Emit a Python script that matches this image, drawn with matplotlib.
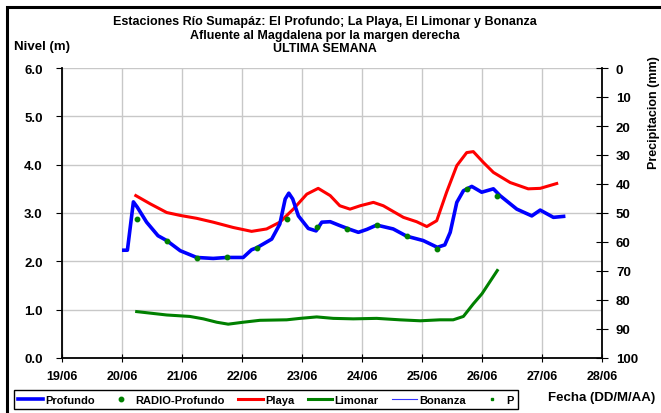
import matplotlib
matplotlib.use("Agg")
import matplotlib.pyplot as plt
from matplotlib.lines import Line2D
from matplotlib.patches import Rectangle

plt.rcParams["font.family"] = ["Liberation Sans", "DejaVu Sans"]
plt.rcParams["font.weight"] = "bold"

# dias de junio (fraccion de dia) y niveles (m)
profundo_t = [20.03, 20.09, 20.19, 20.255, 20.41, 20.6, 20.745, 20.97, 21.245, 21.52,
              21.745, 22.02, 22.16, 22.245, 22.495, 22.63, 22.72, 22.78, 22.845, 22.94,
              23.105, 23.235, 23.33, 23.47, 23.63, 23.8, 23.94, 24.08, 24.245, 24.52,
              24.745, 25.02, 25.255, 25.38, 25.47, 25.58, 25.69, 25.83, 25.995, 26.19,
              26.3, 26.58, 26.83, 26.97, 27.19, 27.36]
profundo_v = [2.23, 2.23, 3.23, 3.12, 2.81, 2.53, 2.43, 2.22, 2.08, 2.06,
              2.08, 2.08, 2.24, 2.28, 2.46, 2.77, 3.29, 3.41, 3.29, 2.94,
              2.68, 2.63, 2.81, 2.82, 2.74, 2.66, 2.60, 2.66, 2.75, 2.67,
              2.52, 2.43, 2.29, 2.34, 2.60, 3.22, 3.46, 3.55, 3.43, 3.50,
              3.36, 3.08, 2.94, 3.06, 2.91, 2.93]

radio_t = [20.25, 20.75, 21.25, 21.75, 22.25, 22.75, 23.25, 23.75, 24.25, 24.75,
           25.25, 25.75, 26.25]
radio_v = [2.88, 2.43, 2.06, 2.08, 2.28, 2.87, 2.71, 2.66, 2.75, 2.52,
           2.25, 3.50, 3.36]

playa_t = [20.23, 20.47, 20.745, 20.97, 21.245, 21.52, 21.855, 22.16, 22.41, 22.63,
           22.855, 23.08, 23.27, 23.47, 23.63, 23.8, 23.97, 24.19, 24.355, 24.69,
           24.91, 25.08, 25.245, 25.41, 25.58, 25.745, 25.855, 26.02, 26.19, 26.47,
           26.77, 26.97, 27.245]
playa_v = [3.36, 3.19, 3.01, 2.95, 2.89, 2.81, 2.70, 2.62, 2.67, 2.81,
           3.08, 3.39, 3.51, 3.36, 3.15, 3.08, 3.15, 3.22, 3.15, 2.91,
           2.82, 2.72, 2.84, 3.43, 3.98, 4.25, 4.27, 4.05, 3.84, 3.63,
           3.50, 3.51, 3.61]

limonar_t = [20.245, 20.745, 21.13, 21.355, 21.58, 21.77, 22.02, 22.3, 22.745, 22.97,
             23.245, 23.52, 23.855, 24.245, 24.63, 24.97, 25.3, 25.52, 25.69, 25.855,
             26.0, 26.255]
limonar_v = [0.96, 0.89, 0.86, 0.81, 0.74, 0.70, 0.74, 0.78, 0.79, 0.82,
             0.85, 0.82, 0.81, 0.82, 0.79, 0.77, 0.79, 0.79, 0.86, 1.12,
             1.33, 1.81]

bonanza_t = []
bonanza_v = []
p_t = []
p_v = []

dias = list(range(19, 29))
etiquetas = ["19/06", "20/06", "21/06", "22/06", "23/06", "24/06", "25/06",
             "26/06", "27/06", "28/06"]

fig = plt.figure(figsize=(6.61, 4.14), dpi=100)
ax = fig.add_axes([62 / 661, 1 - 359 / 414, 540 / 661, 290 / 414])
ax2 = ax.twinx()

ax.plot(profundo_t, profundo_v, color="#0000ff", lw=2.6, zorder=4)
ax.plot(radio_t, radio_v, "o", color="#008000", ms=3.2, zorder=5)
ax.plot(playa_t, playa_v, color="#ff0000", lw=2.2, zorder=3)
ax.plot(limonar_t, limonar_v, color="#008000", lw=2.2, zorder=3)
ax.plot(bonanza_t, bonanza_v, color="#3333ff", lw=0.8)
ax2.plot(p_t, p_v, "s", color="#008000", ms=2)

ax.set_xlim(19, 28)
ax.set_ylim(0, 6)
ax.set_xticks(dias)
ax.set_xticklabels(etiquetas)
ax.set_yticks([0, 1, 2, 3, 4, 5, 6])
ax.set_yticklabels(["0.0", "1.0", "2.0", "3.0", "4.0", "5.0", "6.0"])
ax.grid(True, color="#c8c8c8", lw=1)
ax.set_axisbelow(True)
ax.tick_params(axis="x", direction="inout", length=6, labelsize=9, pad=6)
ax.tick_params(axis="y", direction="out", length=4, labelsize=9.5, pad=10)
for s in ["top", "right"]:
    ax.spines[s].set_visible(False)
    ax2.spines[s].set_visible(s == "right")
ax2.spines["left"].set_visible(False)
ax2.spines["bottom"].set_visible(False)
for s in ["left", "bottom"]:
    ax.spines[s].set_linewidth(1.3)
ax2.spines["right"].set_linewidth(1.3)

ax2.set_ylim(100, 0)
ax2.set_yticks(range(0, 101, 10))
ax2.tick_params(axis="y", direction="inout", length=8, labelsize=9.5, pad=6)
ax2.set_ylabel("Precipitacion (mm)", fontsize=9, fontweight="bold")
ax2.yaxis.set_label_coords(1.085, 0.85)

fig.text(0.492, 1 - 22 / 414, "Estaciones Río Sumapáz: El Profundo; La Playa, El Limonar y Bonanza",
         ha="center", va="center", fontsize=9)
fig.text(0.492, 1 - 36 / 414, "Afluente al Magdalena por la margen derecha",
         ha="center", va="center", fontsize=9)
fig.text(0.492, 1 - 49 / 414, "ULTIMA SEMANA", ha="center", va="center", fontsize=9)
fig.text(14 / 661, 1 - 47 / 414, "Nivel (m)", ha="left", va="center", fontsize=9.5)
fig.text(655 / 661, 1 - 398 / 414, "Fecha (DD/M/AA)", ha="right", va="center", fontsize=9.5)

handles = [
    Line2D([], [], color="#0000ff", lw=2.6),
    Line2D([], [], color="#008000", ls="", marker="o", ms=3.2),
    Line2D([], [], color="#ff0000", lw=2.2),
    Line2D([], [], color="#008000", lw=2.2),
    Line2D([], [], color="#3333ff", lw=0.8),
    Line2D([], [], color="#008000", ls="", marker="s", ms=2),
]
nombres = ["Profundo", "RADIO-Profundo", "Playa", "Limonar", "Bonanza", "P"]
leg = fig.legend(handles, nombres, loc="lower left", ncol=6,
                 bbox_to_anchor=(14 / 661, 4 / 414, 504 / 661, 26 / 414),
                 mode="expand", fancybox=False, edgecolor="black", framealpha=1,
                 fontsize=8, handlelength=2.2, handletextpad=0.2, columnspacing=0.8,
                 borderaxespad=0, borderpad=0.4)
leg.get_frame().set_linewidth(1)

fig.patches.append(Rectangle((7 / 661, -0.1), 1.2, 1 - 8 / 414 + 0.1,
                             transform=fig.transFigure, fill=False,
                             edgecolor="black", lw=2.2))

fig.savefig("out.png", dpi=100)
